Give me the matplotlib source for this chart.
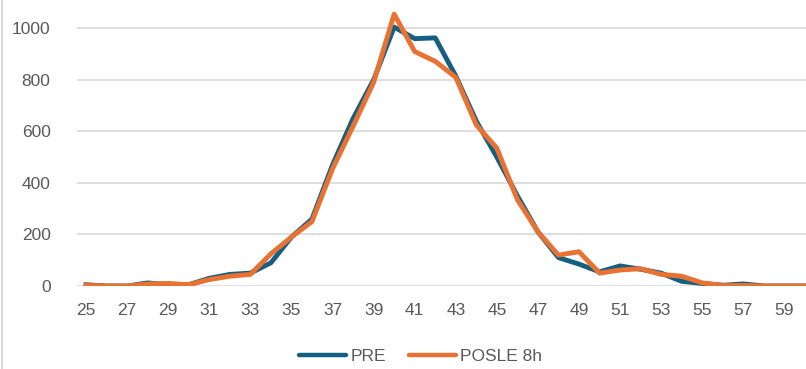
import matplotlib.pyplot as plt
from matplotlib.lines import Line2D

# values
x_values = list(range(25, 61))
pre = [5, 0, 0, 12, 5, 5, 30, 45, 50, 90, 190, 260, 470, 650, 800, 1005,
       960, 963, 815, 640, 500, 350, 210, 110, 85, 55, 78, 65, 50, 18,
       10, 3, 8, 0, 0, 0]
posle = [3, 0, 0, 8, 10, 5, 25, 38, 45, 125, 190, 250, 455, 620, 790, 1055,
         910, 872, 810, 625, 535, 335, 210, 120, 133, 50, 62, 67, 45, 38,
         12, 2, 2, 0, 0, 0]
x_ticks = list(range(25, 60, 2))
y_ticks = [0, 200, 400, 600, 800, 1000]

plt.rcParams['font.family'] = ['Liberation Sans', 'DejaVu Sans']

fig = plt.figure(figsize=(8.06, 3.69), dpi=100)
ax = fig.add_axes([77 / 806, 1 - 286 / 369, 1 - 77 / 806, 286 / 369])

ax.plot(x_values, pre, color='#156082', linewidth=3.5, label='PRE',
        solid_joinstyle='round', zorder=3)
ax.plot(x_values, posle, color='#E97132', linewidth=3.5, label='POSLE 8h',
        solid_joinstyle='round', zorder=4)

ax.set_xlim(24.56, 60.05)
ax.set_ylim(0, 1110)
ax.set_xticks(x_ticks)
ax.set_yticks(y_ticks)
ax.tick_params(axis='both', length=0, labelsize=12.5, labelcolor='#595959')
ax.tick_params(axis='y', pad=19)
ax.tick_params(axis='x', pad=12)
ax.grid(axis='y', color='#d9d9d9', linewidth=1.2)
ax.set_axisbelow(True)
for s in ax.spines.values():
    s.set_visible(False)

handles = [Line2D([], [], color='#156082', linewidth=3.2, solid_capstyle='round', label='PRE'),
           Line2D([], [], color='#E97132', linewidth=3.2, solid_capstyle='round', label='POSLE 8h')]
fig.legend(handles=handles, loc='center', bbox_to_anchor=(0.522, 0.033),
           ncol=2, frameon=False, fontsize=12.5, labelcolor='#595959',
           handlelength=2.7, handletextpad=0.25, columnspacing=1.3)

# thin chart border at the left edge
fig.add_artist(Line2D([0.002, 0.002], [0, 1], transform=fig.transFigure,
                      color='#d9d9d9', linewidth=1.5))

fig.savefig('out.png', dpi=100)
